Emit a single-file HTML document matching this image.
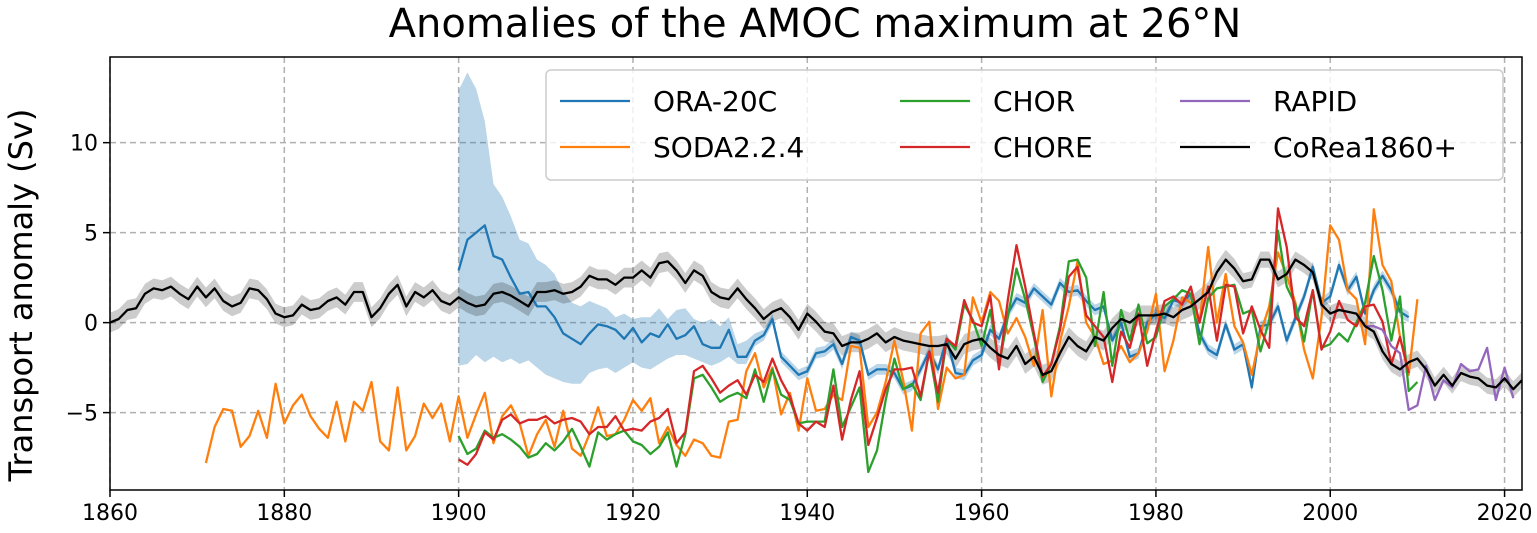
<!DOCTYPE html>
<html><head><meta charset="utf-8"><style>
body{margin:0;background:#fff;}
svg{display:block;font-family:"DejaVu Sans","Liberation Sans",sans-serif;}
</style></head><body>
<svg id="chart" width="1537" height="533" viewBox="0 0 1537 533">
<text x="815" y="37" text-anchor="middle" font-size="40" fill="#000">Anomalies of the AMOC maximum at 26°N</text>
<text transform="translate(32,295) rotate(-90)" text-anchor="middle" font-size="32" fill="#000">Transport anomaly (Sv)</text>
<g id="grid"></g><g id="bands"></g><g id="lines"></g><g id="axes"></g><g id="legend"></g>
</svg>
<script>
const xTicks=[1860,1880,1900,1920,1940,1960,1980,2000,2020];
const yTicks=[-5,0,5,10];
const coreaStart=1860;
const corea=[0,0.2,0.7,0.8,1.6,1.9,1.8,2.0,1.6,1.3,2.0,1.4,1.9,1.2,0.9,1.1,1.9,1.8,1.3,0.5,0.3,0.4,1.0,0.7,0.8,1.2,1.4,1.0,1.7,1.7,0.3,0.8,1.6,2.1,0.9,1.7,1.4,1.8,1.2,1.0,
1.4,1.1,0.9,1.0,1.6,1.7,1.5,1.2,0.9,1.7,1.7,1.8,1.6,1.7,2.0,2.6,2.4,2.4,2.1,2.5,2.5,2.9,2.5,3.3,3.4,2.9,2.2,2.9,2.6,1.7,1.4,1.3,1.9,1.3,0.8,0.2,0.6,0.8,0.3,-0.4,
0.5,0.05,-0.5,-0.6,-1.3,-1.1,-1.1,-0.9,-0.6,-1.1,-0.8,-1.0,-1.1,-1.2,-1.3,-1.3,-1.2,-2.0,-1.2,-1.0,-0.9,-1.4,-1.8,-2.0,-1.3,-2.3,-1.9,-2.9,-2.7,-1.7,-0.8,-1.3,-1.6,-0.8,-1.0,-0.3,0.2,0.0,0.4,0.4,
0.4,0.5,0.3,0.7,0.9,1.3,1.7,2.8,3.5,3.0,2.3,2.4,3.5,3.5,2.4,2.7,3.5,3.2,2.8,1.0,0.5,0.7,0.6,0.5,-0.2,-0.5,-1.6,-2.3,-2.6,-2.2,-2.0,-2.6,-3.5,-2.9,-3.5,-2.8,-3.0,-3.1,-3.5,-3.6,-3.1,-3.7,-3.2];
const oraStart=1900;
const ora=[2.9,4.6,5.0,5.4,3.7,3.5,2.5,1.6,1.7,0.9,0.9,0.3,-0.6,-0.9,-1.2,-0.6,-0.1,-0.2,-0.4,-0.9,-0.3,-1.1,-0.6,-0.8,-0.1,-0.9,-0.7,-0.2,-1.2,-1.4,-1.4,-0.4,-1.9,-1.9,-1.0,-0.7,0.2,-1.9,-2.4,-2.9,
-2.7,-1.7,-1.6,-1.2,-2.3,-0.8,-1.0,-2.9,-2.6,-2.6,-2.8,-3.7,-3.5,-2.6,-1.6,-2.6,-0.9,-2.8,-2.9,-2.1,-1.8,-0.4,-0.9,0.5,1.35,1.1,1.9,1.45,1.0,2.2,1.7,1.8,1.2,0.7,0.9,-1.0,0.0,-1.9,-1.7,0.0,
0.5,0.25,1.25,1.1,1.6,-0.6,-1.5,-1.8,-0.1,-1.5,-1.2,-3.6,-0.2,-0.1,0.9,-1.0,0.25,1.45,3.1,1.1,1.45,3.2,1.8,2.55,0.5,1.8,2.6,1.8,0.6,0.3];
const oraUpper=[12.9,13.9,13.0,11.2,7.7,7.0,5.9,4.6,4.4,3.5,3.2,2.7,1.7,1.1,0.9,1.2,1.0,0.8,0.3,0.5,0.2,0.3,0.3,0.8,0.2,0.7,0.8,0.2,0.0,0.2,-0.2,0.3,-1.2,-1.0,-0.6];
const oraLower=[-2.4,-2.3,-1.8,-2.2,-1.9,-2.2,-2.0,-2.3,-2.1,-2.5,-2.9,-3.1,-3.3,-3.4,-3.4,-2.8,-2.6,-2.5,-2.8,-2.5,-2.2,-2.5,-2.6,-2.3,-2.0,-1.8,-1.8,-2.0,-2.2,-2.4,-2.2,-1.9,-2.3,-2.3,-1.3];
const sodaStart=1871;
const soda=[-7.8,-5.8,-4.8,-4.9,-6.9,-6.3,-4.9,-6.4,-3.4,-5.6,-4.6,-4.0,-5.2,-5.9,-6.4,-4.4,-6.6,-4.4,-4.9,-3.3,-6.6,-7.1,-3.6,-7.1,-6.3,-4.5,-5.3,-4.5,-6.6,
-4.1,-6.4,-5.1,-3.9,-6.7,-5.2,-4.6,-5.6,-7.4,-6.2,-5.4,-6.9,-4.9,-7.0,-7.4,-6.2,-4.7,-6.3,-6.2,-5.4,-4.3,-4.9,-4.2,-6.7,-5.8,-6.8,-7.4,-6.5,-6.7,-7.4,-7.5,-5.5,-5.4,-2.7,-1.7,-3.6,-2.5,-5.1,-3.9,-6.0,
-3.1,-4.9,-4.8,-4.0,-4.3,-1.3,-1.4,-5.8,-5.0,-3.3,-1.0,-3.2,-6.0,-0.6,0.05,-4.8,-2.5,-3.1,-2.9,1.4,0.0,1.7,1.2,-0.6,0.25,-0.8,-2.4,0.7,-4.1,-1.05,0.9,3.4,0.0,-0.8,-2.3,-2.1,-1.3,-2.2,-1.7,-0.5,
1.6,-2.7,-1.0,1.4,1.1,0.0,4.2,0.0,2.7,-0.2,-1.1,-2.9,-0.6,0.9,3.9,2.6,1.1,-1.5,-3.1,0.3,5.4,4.6,1.8,1.3,-1.2,6.3,3.2,2.3,-0.8,-2.9,1.3];
const chorStart=1900;
const chor=[-6.3,-7.3,-7.0,-6.0,-6.4,-6.2,-6.5,-6.9,-7.5,-7.3,-6.7,-7.1,-6.6,-5.9,-6.9,-8.0,-6.1,-6.5,-6.2,-6.0,-6.6,-6.8,-7.3,-6.9,-6.1,-8.0,-6.2,-3.1,-2.9,-3.6,-4.4,-4.1,-3.9,-4.2,-2.6,-4.4,-2.6,-4.0,-4.3,-5.6,
-5.5,-5.5,-5.5,-2.6,-5.8,-4.7,-3.6,-8.3,-7.1,-4.3,-2.0,-3.7,-3.4,-4.3,-1.6,-4.4,-0.9,-1.5,1.0,0.15,-1.3,0.7,-2.4,0.3,3.0,1.3,-0.8,-3.3,-2.3,-0.2,3.4,3.5,2.5,-1.3,1.7,-2.4,0.7,-1.0,1.0,-1.15,
-0.8,0.9,1.3,1.8,1.6,-1.2,1.35,1.9,2.0,2.1,0.5,0.7,-1.6,0.15,5.1,2.0,1.0,-1.05,1.8,-1.4,-1.2,-0.6,-1.05,0.0,1.1,3.7,1.8,-1.0,1.45,-3.8,-3.3];
const choreStart=1900;
const chore=[-7.6,-7.9,-7.3,-6.1,-6.5,-5.4,-5.1,-5.6,-5.4,-5.4,-5.2,-5.6,-5.4,-5.3,-5.5,-6.2,-5.8,-5.8,-5.2,-6.0,-5.9,-6.0,-5.5,-5.3,-4.8,-6.7,-6.1,-2.7,-2.4,-3.1,-3.9,-3.5,-3.2,-4.0,-2.9,-3.3,-2.0,-3.2,-4.1,-5.6,
-6.0,-5.5,-5.8,-3.5,-6.5,-4.3,-2.7,-6.8,-5.3,-3.7,-2.6,-2.6,-2.5,-4.1,-1.6,-3.9,-0.9,-1.3,1.25,0.0,-0.2,1.5,-2.6,1.25,4.3,2.0,-0.6,-3.0,-2.3,-0.4,2.55,3.1,0.4,-0.2,-0.8,-3.3,-0.5,-1.4,0.5,-2.4,
-0.5,1.2,1.45,1.0,2.0,0.0,2.0,-1.0,2.1,2.0,-0.6,0.9,-0.4,-1.4,6.35,4.2,0.3,-0.2,1.8,-1.5,-0.5,1.2,0.15,-0.2,0.9,1.0,0.05,-2.3,-0.8,-2.8];
const rapidStart=2004;
const rapid=[-0.2,-0.2,-0.4,-1.3,-1.7,-4.85,-4.6,-2.4,-4.3,-3.2,-3.6,-2.3,-2.7,-2.6,-1.4,-4.3,-2.5,-4.2];

const NS="http://www.w3.org/2000/svg";
const L=110,R=1522,T=57,B=490;
const X0=1860,X1=2022,Y0=-9.3,Y1=14.76;
function xs(yr){return L+(yr-X0)/(X1-X0)*(R-L);}
function ys(v){return B-(v-Y0)/(Y1-Y0)*(B-T);}
function mk(tag,attrs,parent){const e=document.createElementNS(NS,tag);for(const k in attrs)e.setAttribute(k,attrs[k]);parent.appendChild(e);return e;}
const grid=document.getElementById('grid'),bands=document.getElementById('bands'),lines=document.getElementById('lines'),axes=document.getElementById('axes'),legend=document.getElementById('legend');

xTicks.forEach(t=>{
  const g=mk('line',{x1:xs(t),x2:xs(t),y1:T,y2:B,stroke:'#b0b0b0','stroke-width':1.5,'stroke-dasharray':'6,4'},grid);
  
  
  const tk=mk('line',{x1:xs(t),x2:xs(t),y1:B,y2:B+7,stroke:'#000','stroke-width':1.5},axes);
  
  
  const lb=mk('text',{x:xs(t),y:B+30,'text-anchor':'middle','font-size':22},axes);
  lb.textContent=t;
  
  
});
yTicks.forEach(t=>{
  const g=mk('line',{x1:L,x2:R,y1:ys(t),y2:ys(t),stroke:'#b0b0b0','stroke-width':1.5,'stroke-dasharray':'6,4'},grid);
  
  
  const tk=mk('line',{x1:L-7,x2:L,y1:ys(t),y2:ys(t),stroke:'#000','stroke-width':1.5},axes);
  
  
  const lb=mk('text',{x:L-12,y:ys(t)+8,'text-anchor':'end','font-size':22},axes);
  lb.textContent=(t<0?'\u2212'+Math.abs(t):t);
  
  
});
const frame=mk('rect',{x:L,y:T,width:R-L,height:B-T,fill:'none',stroke:'#000','stroke-width':1.5},axes);



function bandPath(start,up,lo){
  let d='';
  up.forEach((v,i)=>{d+=(i?'L':'M')+xs(start+i).toFixed(1)+','+ys(v).toFixed(1);});
  for(let i=lo.length-1;i>=0;i--)d+='L'+xs(start+i).toFixed(1)+','+ys(lo[i]).toFixed(1);
  return d+'Z';
}
const oU=ora.map((v,i)=>i<oraUpper.length?oraUpper[i]:v+0.3);
const oL=ora.map((v,i)=>i<oraLower.length?oraLower[i]:v-0.3);
const ob=mk('path',{d:bandPath(oraStart,oU,oL),fill:'#1f77b4','fill-opacity':0.3,stroke:'none'},bands);


const cU=corea.map((v,i)=>v+(coreaStart+i<1990?0.55:0.45));
const cL=corea.map((v,i)=>v-(coreaStart+i<1990?0.55:0.45));
const cb=mk('path',{d:bandPath(coreaStart,cU,cL),fill:'#000','fill-opacity':0.2,stroke:'none'},bands);



function series(start,vals,color,name){
  const d=vals.map((v,i)=>(i?'L':'M')+xs(start+i).toFixed(1)+','+ys(v).toFixed(1)).join('');
  const p=mk('path',{d:d,fill:'none',stroke:color,'stroke-width':2.3,'stroke-linejoin':'round'},lines);
  
  
}
series(oraStart,ora,'#1f77b4','ora-20c-line');
series(sodaStart,soda,'#ff7f0e','soda-line');
series(chorStart,chor,'#2ca02c','chor-line');
series(choreStart,chore,'#d62728','chore-line');
series(rapidStart,rapid,'#9467bd','rapid-line');
series(coreaStart,corea,'#000000','corea1860-line');

const lbox=mk('rect',{x:546,y:70,width:957,height:110,rx:5,fill:'#fff','fill-opacity':0.8,stroke:'#cccccc','stroke-width':1.5},legend);


const entries=[['ORA-20C','#1f77b4',560,101],['SODA2.2.4','#ff7f0e',560,147],['CHOR','#2ca02c',900,101],['CHORE','#d62728',900,147],['RAPID','#9467bd',1180,101],['CoRea1860+','#000',1180,147]];
entries.forEach(e=>{
  const g=mk('g',{},legend);
  
  
  mk('line',{x1:e[2],x2:e[2]+70,y1:e[3],y2:e[3],stroke:e[1],'stroke-width':2.3},g);
  const t=mk('text',{x:e[2]+93,y:e[3]+10,'font-size':28},g);
  t.textContent=e[0];
});
</script>
</body></html>
